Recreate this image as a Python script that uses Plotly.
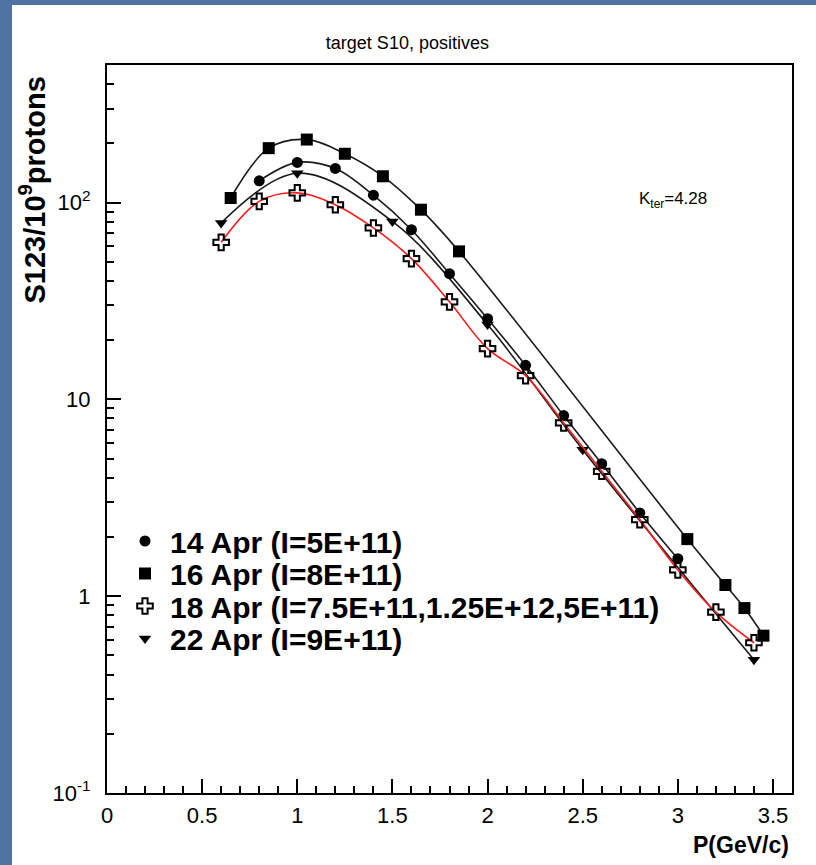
import math
import plotly.graph_objects as go

# ---------------- data ----------------
p_14apr = [0.8, 1.0, 1.2, 1.4, 1.6, 1.8, 2.0, 2.2, 2.4, 2.6, 2.8, 3.0]
s_14apr = [129, 160, 149, 109, 72.8, 43.5, 25.7, 14.9, 8.27, 4.71, 2.65, 1.55]

p_16apr = [0.65, 0.85, 1.05, 1.25, 1.45, 1.65, 1.85, 3.05, 3.25, 3.35, 3.45]
s_16apr = [105.5, 189, 209, 177, 136, 92, 56.5, 1.95, 1.14, 0.87, 0.63]

p_18apr = [0.6, 0.8, 1.0, 1.2, 1.4, 1.6, 1.8, 2.0, 2.2, 2.4, 2.6, 2.8, 3.0, 3.2, 3.4]
s_18apr = [62.8, 101.4, 112, 97.5, 74.3, 51.9, 31.3, 18.1, 13.2, 7.59, 4.31, 2.45, 1.36, 0.83, 0.58]

p_22apr = [0.6, 1.0, 1.5, 2.0, 2.5, 3.4]
s_22apr = [78.8, 141, 80.2, 24, 5.55, 0.475]

labels = ["14 Apr (I=5E+11)", "16 Apr (I=8E+11)",
          "18 Apr (I=7.5E+11,1.25E+12,5E+11)", "22 Apr (I=9E+11)"]

y_tickvals = [0.1, 1, 10, 100]
y_ticktext = ["10<sup>-1</sup>", "1", "10", "10<sup>2</sup>"]

# ---------------- styling ----------------
FONT = "Liberation Sans, Arial, sans-serif"
BLACK = "#1a1a1a"
RED = "#ff1a1a"
SLIDE_BLUE = "#4f74a3"

series = [
    (p_22apr, s_22apr, BLACK, "triangle-down", 11, True, "legend4", labels[3]),
    (p_14apr, s_14apr, BLACK, "circle", 11, True, "legend", labels[0]),
    (p_16apr, s_16apr, BLACK, "square", 12, True, "legend2", labels[1]),
    (p_18apr, s_18apr, RED, "cross-open", 13, False, "legend3", labels[2]),
]

fig = go.Figure()
for x, y, col, sym, size, filled, leg, name in series:
    fig.add_trace(go.Scatter(
        x=x, y=y, mode="lines",
        line=dict(color=col, width=1.6, shape="spline", smoothing=1.0),
        showlegend=False, hoverinfo="skip"))
    fig.add_trace(go.Scatter(
        x=x, y=y, mode="markers", name=name, legend=leg,
        marker=dict(symbol=sym, size=size, color="black",
                    line=dict(color="black", width=2 if not filled else 0))))

W, H = 816, 865
L, R, T, B = 107, 24, 65, 72
pw, ph = W - L - R, H - T - B


def px_x(px):
    return (px - L) / pw


def px_y(py):
    return (H - B - py) / ph


legend_rows = [541, 573.5, 606, 638.5]
legend_common = dict(xanchor="left", yanchor="middle", bgcolor="rgba(0,0,0,0)",
                     borderwidth=0, itemwidth=40,
                     font=dict(family=FONT, size=30, color="black", weight="bold"),
                     itemsizing="trace")
legend_names = ["legend", "legend2", "legend3", "legend4"]
leg_layout = {}
for nm, row in zip(legend_names, legend_rows):
    leg_layout[nm] = dict(x=px_x(120), y=px_y(row), **legend_common)

fig.update_layout(
    width=W, height=H, autosize=False,
    margin=dict(l=L, r=R, t=T, b=B, pad=0),
    paper_bgcolor=SLIDE_BLUE,
    plot_bgcolor="white",
    title=dict(text="target S10, positives", x=px_x(449), xanchor="center",
               y=1 - 43 / H, yanchor="middle", yref="container",
               font=dict(family=FONT, size=18, color="black")),
    xaxis=dict(range=[0, 3.6], tick0=0, dtick=0.5, ticks="inside", ticklen=14,
               tickwidth=1.5, tickcolor="black", showline=True, linewidth=2,
               linecolor="black", mirror=True, showgrid=False, zeroline=False,
               ticklabelstandoff=2,
               tickfont=dict(family=FONT, size=22, color="black"),
               minor=dict(dtick=0.1, ticks="inside", ticklen=7, tickwidth=1.5,
                          tickcolor="black", showgrid=False)),
    yaxis=dict(type="log", range=[-1, math.log10(500)], tickmode="array",
               tickvals=y_tickvals, ticktext=y_ticktext, ticks="inside",
               ticklen=14, tickwidth=1.5, tickcolor="black", showline=True,
               linewidth=2, linecolor="black", mirror=True, showgrid=False,
               zeroline=False, ticklabelstandoff=10,
               tickfont=dict(family=FONT, size=22, color="black"),
               minor=dict(dtick="D1", ticks="inside", ticklen=7, tickwidth=1.5,
                          tickcolor="black", showgrid=False)),
    shapes=[dict(type="rect", xref="paper", yref="paper", layer="below",
                 x0=px_x(12), x1=px_x(830), y0=px_y(880), y1=px_y(5),
                 fillcolor="white", line=dict(width=0))],
    annotations=[
        dict(text="<b>S123/10<sup>9</sup>protons</b>", textangle=-90,
             xref="paper", yref="paper", x=px_x(32), y=px_y(306),
             xanchor="center", yanchor="bottom", showarrow=False,
             font=dict(family=FONT, size=29, color="black")),
        dict(text="<b>P(GeV/c)</b>", xref="paper", yref="paper",
             x=px_x(791), y=px_y(845), xanchor="right", yanchor="middle",
             showarrow=False, font=dict(family=FONT, size=23, color="black")),
        dict(text="K<sub>ter</sub>=4.28", xref="paper", yref="paper",
             x=px_x(673), y=px_y(200), xanchor="center", yanchor="middle",
             showarrow=False, font=dict(family=FONT, size=17, color="black")),
    ],
    **leg_layout,
)

fig.write_html(
    "out.html",
    config={"displayModeBar": False},
    post_script="document.body.style.margin='0px';"
                "document.body.style.background='" + SLIDE_BLUE + "';",
)
